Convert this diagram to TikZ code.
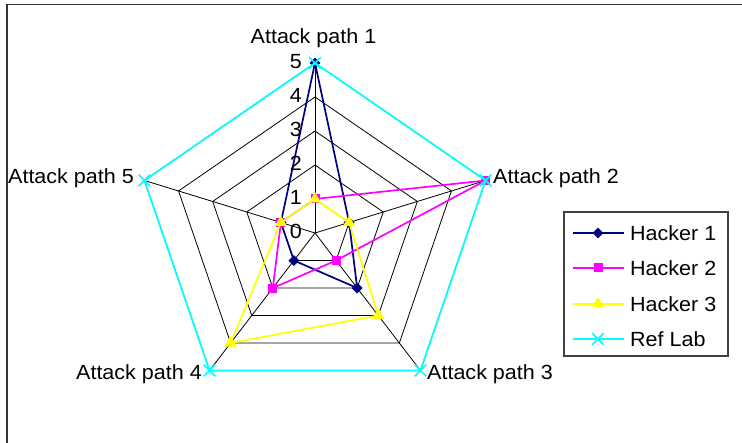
\documentclass[tikz,border=0pt]{standalone}
\usepackage{fontspec}
\setmainfont[FakeStretch=1.05]{Liberation Sans}
\usetikzlibrary{shapes.geometric, shapes.misc, positioning}

\definecolor{hackerone}{RGB}{0,0,128}
\definecolor{hackertwo}{RGB}{255,0,255}
\definecolor{hackerthree}{RGB}{255,255,0}
\definecolor{reflab}{RGB}{0,255,255}

\tikzset{
  every node/.style={font=\fontsize{20.5}{24}\selectfont, inner sep=0pt},
  web line/.style={black, line width=0.8pt},
  series/.style={line width=1.7pt, line join=round},
  diamondmark/.style={diamond, fill=hackerone, minimum width=11pt, minimum height=11pt},
  squaremark/.style={rectangle, fill=hackertwo, minimum size=9pt},
  trianglemark/.style={regular polygon, regular polygon sides=3, fill=hackerthree, minimum size=14pt},
  crossmark/.style={cross out, draw=reflab, line width=1.6pt, minimum size=10pt},
}

\begin{document}
\begin{tikzpicture}[x=1pt, y=-1pt]
    \useasboundingbox (0,0) rectangle (742,443);
    \draw[black!80, line width=1.5pt] (7,443) -- (7,4.5) -- (742,4.5);

    \begin{scope}[shift={(315,233)}, xscale=1.055]
        % web
        \foreach \r in {34,68,102,136,170}
            \draw[web line] (-90:\r) -- (-18:\r) -- (54:\r) -- (126:\r) -- (198:\r) -- cycle;
        \foreach \a [count=\i] in {-90,-18,54,126,198} {
            \coordinate (axis\i) at (\a:170);
            \draw[web line] (0,0) -- (axis\i);
        }

        % Hacker 1
        \foreach \val [count=\i] in {5,1,2,1,1}
            \coordinate (h1-\i) at ({-90+72*(\i-1)}:{34*\val});
        \draw[series, hackerone] (h1-1) -- (h1-2) -- (h1-3) -- (h1-4) -- (h1-5) -- cycle;
        \foreach \i in {1,...,5}
            \node[diamondmark] (h1m\i) at (h1-\i) {};

        % Hacker 2
        \foreach \val [count=\i] in {1,5,1,2,1}
            \coordinate (h2-\i) at ({-90+72*(\i-1)}:{34*\val});
        \draw[series, hackertwo] (h2-1) -- (h2-2) -- (h2-3) -- (h2-4) -- (h2-5) -- cycle;
        \foreach \i in {1,...,5}
            \node[squaremark] (h2m\i) at (h2-\i) {};

        % Hacker 3
        \foreach \val [count=\i] in {1,1,3,4,1}
            \coordinate (h3-\i) at ({-90+72*(\i-1)}:{34*\val});
        \draw[series, hackerthree] (h3-1) -- (h3-2) -- (h3-3) -- (h3-4) -- (h3-5) -- cycle;
        \foreach \i in {1,...,5}
            \node[trianglemark] (h3m\i) at (h3-\i) {};

        % Ref Lab
        \draw[series, reflab] (axis1) -- (axis2) -- (axis3) -- (axis4) -- (axis5) -- cycle;
        \foreach \i in {1,...,5}
            \node[crossmark] (refm\i) at (axis\i) {};
    \end{scope}

    % scale
    \foreach \val in {0,...,5}
        \node[anchor=east] (tick\val) at (302,231.5-34*\val) {\val};

    % axis names
    \node (ap1) at (313.5,38) {Attack path 1};
    \node[anchor=west] (ap2) at (493,178) {Attack path 2};
    \node[anchor=west] (ap3) at (427,374) {Attack path 3};
    \node[anchor=east] (ap4) at (202,374) {Attack path 4};
    \node[anchor=east] (ap5) at (134,178) {Attack path 5};

    % legend
    \draw[black!75, line width=1.2pt] (564,212) rectangle (728,356);
    \draw[series, hackerone] (573,233) -- (624,233);
    \node[diamondmark] (key1) at (598,233) {};
    \node[anchor=west] (lab1) at (630,233) {Hacker 1};
    \draw[series, hackertwo] (573,268) -- (624,268);
    \node[squaremark] (key2) at (598,268) {};
    \node[anchor=west] (lab2) at (630,268) {Hacker 2};
    \draw[series, hackerthree] (573,304) -- (624,304);
    \node[trianglemark] (key3) at (598,304) {};
    \node[anchor=west] (lab3) at (630,304) {Hacker 3};
    \draw[series, reflab] (573,339) -- (624,339);
    \node[crossmark] (key4) at (598,339) {};
    \node[anchor=west] (lab4) at (630,339) {Ref Lab};
\end{tikzpicture}
\end{document}
